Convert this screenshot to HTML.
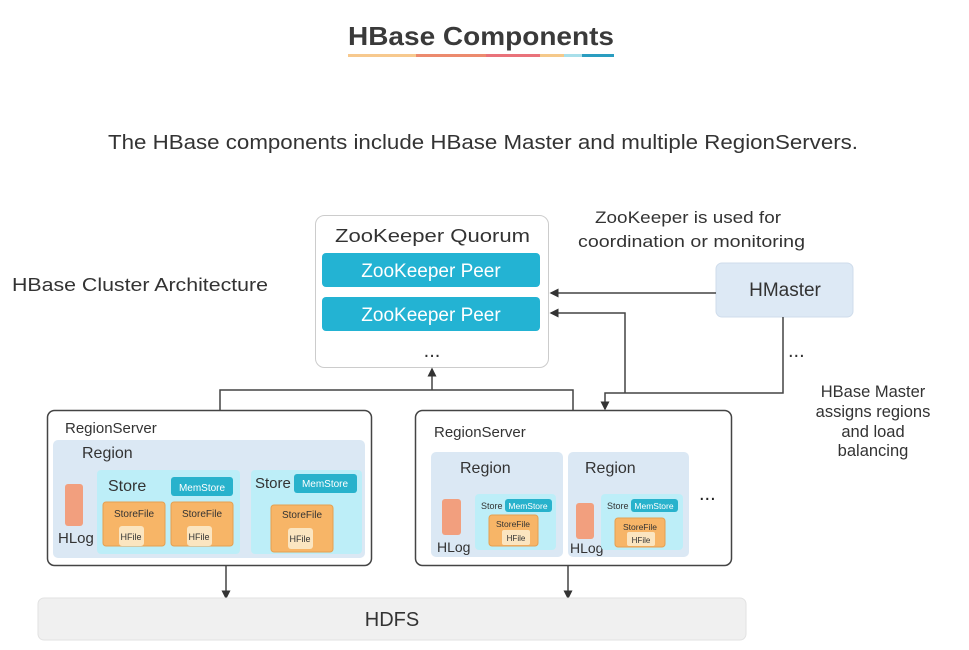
<!DOCTYPE html>
<html><head><meta charset="utf-8"><style>
body{margin:0;background:#fff;width:969px;height:650px;overflow:hidden}
svg{display:block;font-family:"Liberation Sans",sans-serif}
</style></head><body>
<svg width="969" height="650" viewBox="0 0 969 650">
<defs><marker id="a" markerWidth="6" markerHeight="6" refX="5" refY="3" orient="auto"><path d="M0,0 L6,3 L0,6z" fill="#333"/></marker></defs>
<text x="348" y="45" font-size="26" font-weight="bold" fill="#3a3a3a" textLength="266" lengthAdjust="spacingAndGlyphs">HBase Components</text>
<rect x="348" y="54" width="68" height="3" fill="#f7c98e"/><rect x="416" y="54" width="70" height="3" fill="#ec8a6e"/><rect x="486" y="54" width="70" height="3" fill="#e9727a"/><rect x="540" y="54" width="24" height="3" fill="#f5c98a"/><rect x="564" y="54" width="18" height="3" fill="#a8dfea"/><rect x="582" y="54" width="32" height="3" fill="#2a9dc0"/>
<text x="108" y="149" font-size="20" fill="#333" textLength="750" lengthAdjust="spacingAndGlyphs">The HBase components include HBase Master and multiple RegionServers.</text>
<text x="12" y="291" font-size="18" fill="#333" textLength="256" lengthAdjust="spacingAndGlyphs">HBase Cluster Architecture</text>
<text x="595" y="223" font-size="16.5" fill="#333" textLength="186" lengthAdjust="spacingAndGlyphs">ZooKeeper is used for</text>
<text x="578" y="247" font-size="16.5" fill="#333" textLength="227" lengthAdjust="spacingAndGlyphs">coordination or monitoring</text>
<text x="873" y="397" font-size="16.5" fill="#333" text-anchor="middle">HBase Master</text>
<text x="873" y="417" font-size="16.5" fill="#333" text-anchor="middle">assigns regions</text>
<text x="873" y="437" font-size="16.5" fill="#333" text-anchor="middle">and load</text>
<text x="873" y="456" font-size="16.5" fill="#333" text-anchor="middle">balancing</text>
<!-- ZK -->
<rect x="315.5" y="215.5" width="233" height="152" rx="9" fill="#fff" stroke="#ccc"/>
<text x="335" y="242" font-size="18" fill="#333" textLength="195" lengthAdjust="spacingAndGlyphs">ZooKeeper  Quorum</text>
<rect x="322" y="253" width="218" height="34" rx="4" fill="#23b3d3"/>
<text x="431" y="277" font-size="19" fill="#fff" text-anchor="middle">ZooKeeper Peer</text>
<rect x="322" y="297" width="218" height="34" rx="4" fill="#23b3d3"/>
<text x="431" y="321" font-size="19" fill="#fff" text-anchor="middle">ZooKeeper Peer</text>
<text x="432" y="357" font-size="20" fill="#333" text-anchor="middle">...</text>
<rect x="716" y="263" width="137" height="54" rx="6" fill="#dde9f5" stroke="#cfdceb"/>
<text x="785" y="296" font-size="19" fill="#333" text-anchor="middle">HMaster</text>
<text x="788" y="357" font-size="20" fill="#333">...</text>
<!-- connectors -->
<g stroke="#444" stroke-width="1.5" fill="none">
<path d="M716,293 H551" marker-end="url(#a)"/>
<path d="M625,393 V313 H551" marker-end="url(#a)"/>
<path d="M783,317 V393 H605 V409" marker-end="url(#a)"/>
<path d="M220,410 V390 H573 V410"/>
<path d="M432,390 V369" marker-end="url(#a)"/>
<path d="M226,565 V598" marker-end="url(#a)"/>
<path d="M568,565 V598" marker-end="url(#a)"/>
</g>
<!-- RS1 -->
<rect x="47.5" y="410.5" width="324" height="155" rx="7" fill="#fff" stroke="#444" stroke-width="1.5"/>
<text x="65" y="433" font-size="15" fill="#333">RegionServer</text>
<rect x="53" y="440" width="312" height="118" rx="5" fill="#dbe8f4"/>
<text x="82" y="458" font-size="16" fill="#333">Region</text>
<rect x="65" y="484" width="18" height="42" rx="3" fill="#f29f7e"/>
<text x="58" y="543" font-size="15" fill="#333">HLog</text>
<rect x="97" y="470" width="143" height="84" rx="4" fill="#bdeef8"/>
<text x="108" y="491" font-size="16" fill="#333">Store</text>
<rect x="171" y="477" width="62" height="19" rx="3" fill="#28b2cc"/>
<text x="202" y="491" font-size="10" fill="#fff" text-anchor="middle">MemStore</text>
<rect x="103" y="502" width="62" height="44" rx="3" fill="#f7b567" stroke="#e5a050"/>
<text x="134" y="517" font-size="10" fill="#333" text-anchor="middle">StoreFile</text>
<rect x="119" y="526" width="25" height="20" rx="3" fill="#fbe5c0"/>
<text x="131" y="540" font-size="9" fill="#333" text-anchor="middle">HFile</text>
<rect x="171" y="502" width="62" height="44" rx="3" fill="#f7b567" stroke="#e5a050"/>
<text x="202" y="517" font-size="10" fill="#333" text-anchor="middle">StoreFile</text>
<rect x="187" y="526" width="25" height="20" rx="3" fill="#fbe5c0"/>
<text x="199" y="540" font-size="9" fill="#333" text-anchor="middle">HFile</text>
<rect x="251" y="470" width="111" height="84" rx="4" fill="#bdeef8"/>
<text x="255" y="488" font-size="15" fill="#333">Store</text>
<rect x="294" y="474" width="63" height="19" rx="3" fill="#28b2cc"/>
<text x="325" y="487" font-size="10" fill="#fff" text-anchor="middle">MemStore</text>
<rect x="271" y="505" width="62" height="47" rx="3" fill="#f7b567" stroke="#e5a050"/>
<text x="302" y="518" font-size="10" fill="#333" text-anchor="middle">StoreFile</text>
<rect x="288" y="528" width="25" height="21" rx="3" fill="#fbe5c0"/>
<text x="300" y="542" font-size="9" fill="#333" text-anchor="middle">HFile</text>
<!-- RS2 -->
<rect x="415.5" y="410.5" width="316" height="155" rx="7" fill="#fff" stroke="#444" stroke-width="1.5"/>
<text x="434" y="437" font-size="15" fill="#333">RegionServer</text>
<rect x="431" y="452" width="132" height="105" rx="5" fill="#dbe8f4"/>
<text x="460" y="473" font-size="16" fill="#333">Region</text>
<rect x="442" y="499" width="19" height="36" rx="3" fill="#f29f7e"/>
<text x="437" y="552" font-size="14" fill="#333">HLog</text>
<rect x="475" y="494" width="81" height="56" rx="4" fill="#bdeef8"/>
<text x="481" y="509" font-size="9" fill="#333">Store</text>
<rect x="505" y="499" width="47" height="13" rx="3" fill="#28b2cc"/>
<text x="528" y="509" font-size="8.5" fill="#fff" text-anchor="middle">MemStore</text>
<rect x="489" y="515" width="49" height="31" rx="3" fill="#f7b567" stroke="#e5a050"/>
<text x="513" y="527" font-size="8.5" fill="#333" text-anchor="middle">StoreFile</text>
<rect x="502" y="530" width="28" height="15" rx="2" fill="#fbe5c0"/>
<text x="516" y="541" font-size="8" fill="#333" text-anchor="middle">HFile</text>
<rect x="568" y="452" width="121" height="105" rx="5" fill="#dbe8f4"/>
<text x="585" y="473" font-size="16" fill="#333">Region</text>
<rect x="576" y="503" width="18" height="36" rx="3" fill="#f29f7e"/>
<text x="570" y="553" font-size="14" fill="#333">HLog</text>
<rect x="601" y="494" width="82" height="56" rx="4" fill="#bdeef8"/>
<text x="607" y="509" font-size="9" fill="#333">Store</text>
<rect x="631" y="499" width="47" height="13" rx="3" fill="#28b2cc"/>
<text x="654" y="509" font-size="8.5" fill="#fff" text-anchor="middle">MemStore</text>
<rect x="615" y="518" width="50" height="29" rx="3" fill="#f7b567" stroke="#e5a050"/>
<text x="640" y="530" font-size="8.5" fill="#333" text-anchor="middle">StoreFile</text>
<rect x="627" y="532" width="28" height="14" rx="2" fill="#fbe5c0"/>
<text x="641" y="543" font-size="8" fill="#333" text-anchor="middle">HFile</text>
<text x="699" y="500" font-size="20" fill="#222">...</text>
<!-- HDFS -->
<rect x="38" y="598" width="708" height="42" rx="6" fill="#f0f0f0" stroke="#e2e2e2"/>
<text x="392" y="626" font-size="20" fill="#333" text-anchor="middle">HDFS</text>
</svg>
</body></html>
